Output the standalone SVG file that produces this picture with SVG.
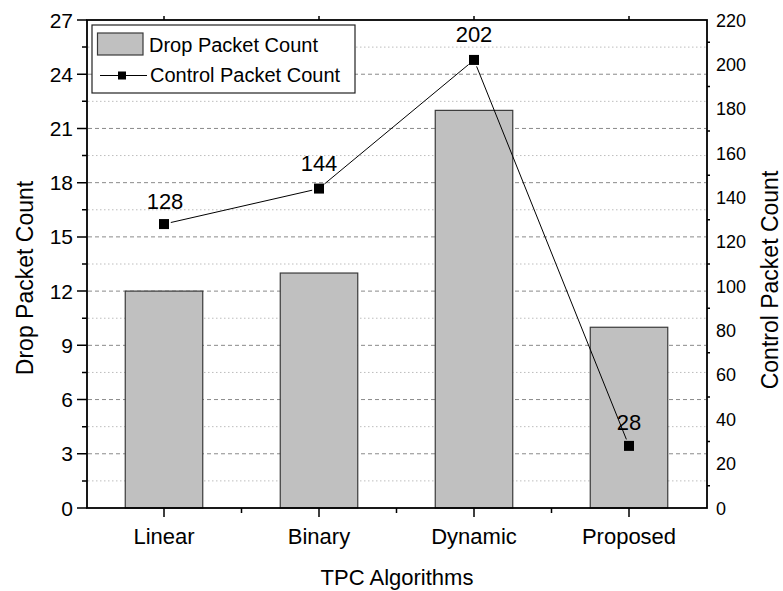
<svg xmlns="http://www.w3.org/2000/svg" width="783" height="591" viewBox="0 0 783 591">
<style>
text{font-family:"Liberation Sans",Arial,sans-serif;fill:#000}
.tl{font-size:21px;text-anchor:end}
.tr{font-size:18px;text-anchor:start}
.cat{font-size:22px;text-anchor:middle}
.title{font-size:23px;text-anchor:middle}
.dl{font-size:22px;text-anchor:middle}
.leg{font-size:20px}
.gmaj{stroke:#8a8a8a;stroke-width:1;stroke-dasharray:4 3;fill:none}
.gmin{stroke:#bdbdbd;stroke-width:1;stroke-dasharray:1.5 2.5;fill:none}
.axis{stroke:#000;stroke-width:1.8;fill:none}
.tick{stroke:#000;stroke-width:1.5;fill:none}
.bar{fill:#c0c0c0;stroke:#3a3a3a;stroke-width:1.2}
.ln{stroke:#000;stroke-width:1;fill:none}
</style>
<defs>
<rect id="sq" x="-5" y="-5" width="10" height="10" fill="#000"/>
</defs>
<g id="grid">
<path class="gmaj" d="M88 453.78H706M88 399.56H706M88 345.33H706M88 291.11H706M88 236.89H706M88 182.67H706M88 128.44H706M88 74.22H706"/>
<path class="gmin" d="M88 480.89H706M88 426.67H706M88 372.44H706M88 318.22H706M88 264H706M88 209.78H706M88 155.56H706M88 101.33H706M88 47.11H706"/>
</g>
<g id="bars">
<rect id="bar-linear" class="bar" x="125.25" y="291.11" width="77.5" height="216.89"/>
<rect id="bar-binary" class="bar" x="280.25" y="273.04" width="77.5" height="234.96"/>
<rect id="bar-dynamic" class="bar" x="435.25" y="110.37" width="77.5" height="397.63"/>
<rect id="bar-proposed" class="bar" x="590.25" y="327.26" width="77.5" height="180.74"/>
</g>
<g id="axes">
<rect class="axis" x="87" y="20" width="620" height="488"/>
<path class="tick" d="M77 508H87M77 453.78H87M77 399.56H87M77 345.33H87M77 291.11H87M77 236.89H87M77 182.67H87M77 128.44H87M77 74.22H87M77 20H87"/>
<path class="tick" d="M82 480.89H87M82 426.67H87M82 372.44H87M82 318.22H87M82 264H87M82 209.78H87M82 155.56H87M82 101.33H87M82 47.11H87"/>
<path class="tick" d="M164 508V517M319 508V517M474 508V517M629 508V517M241.5 508V513M396.5 508V513M551.5 508V513"/>
<path class="tick" d="M164 20V16M319 20V16M474 20V16M629 20V16"/>
<path class="tick" d="M707 485.82H710M707 441.45H710M707 397.09H710M707 352.73H710M707 308.36H710M707 264H710M707 219.64H710M707 175.27H710M707 130.91H710M707 86.55H710M707 42.18H710"/>
</g>
<g id="left-labels">
<text class="tl" x="73" y="515.5">0</text>
<text class="tl" x="73" y="461.3">3</text>
<text class="tl" x="73" y="407">6</text>
<text class="tl" x="73" y="352.8">9</text>
<text class="tl" x="73" y="298.6">12</text>
<text class="tl" x="73" y="244.4">15</text>
<text class="tl" x="73" y="190.2">18</text>
<text class="tl" x="73" y="135.9">21</text>
<text class="tl" x="73" y="81.7">24</text>
<text class="tl" x="73" y="27.5">27</text>
</g>
<g id="right-labels">
<text class="tr" x="716" y="514.5">0</text>
<text class="tr" x="716" y="470.1">20</text>
<text class="tr" x="716" y="425.8">40</text>
<text class="tr" x="716" y="381.4">60</text>
<text class="tr" x="716" y="337">80</text>
<text class="tr" x="716" y="292.7">100</text>
<text class="tr" x="716" y="248.3">120</text>
<text class="tr" x="716" y="204">140</text>
<text class="tr" x="716" y="159.6">160</text>
<text class="tr" x="716" y="115.2">180</text>
<text class="tr" x="716" y="70.9">200</text>
<text class="tr" x="716" y="26.5">220</text>
</g>
<g id="categories">
<text class="cat" x="164" y="544">Linear</text>
<text class="cat" x="319" y="544">Binary</text>
<text class="cat" x="474" y="544">Dynamic</text>
<text class="cat" x="629" y="544">Proposed</text>
</g>
<g id="titles">
<text class="title" x="397" y="585" style="font-size:22px">TPC Algorithms</text>
<text class="title" transform="translate(33 278) rotate(-90)">Drop Packet Count</text>
<text class="title" transform="translate(778 280) rotate(-90)">Control Packet Count</text>
</g>
<g id="connectors">
<path class="ln" d="M170.8 222.5L312.2 190.2M324.4 184L468.6 64.5M476.6 66.4L626.4 439.4"/>
</g>
<g id="points">
<use href="#sq" x="164" y="224.07"/>
<use href="#sq" x="319" y="188.58"/>
<use href="#sq" x="474" y="59.93"/>
<use href="#sq" x="629" y="445.89"/>
</g>
<g id="data-labels">
<text class="dl" x="165" y="209">128</text>
<text class="dl" x="319" y="171">144</text>
<text class="dl" x="474" y="42">202</text>
<text class="dl" x="629" y="430">28</text>
</g>
<g id="legend">
<rect x="92" y="25" width="263" height="68" fill="#fff" stroke="#222" stroke-width="1.2"/>
<rect class="bar" x="97.5" y="33" width="45.5" height="22"/>
<text class="leg" x="149" y="52">Drop Packet Count</text>
<path class="ln" d="M100 75.5H147"/>
<rect x="118" y="71.5" width="8" height="8" fill="#000"/>
<text class="leg" x="150" y="82">Control Packet Count</text>
</g>
</svg>
